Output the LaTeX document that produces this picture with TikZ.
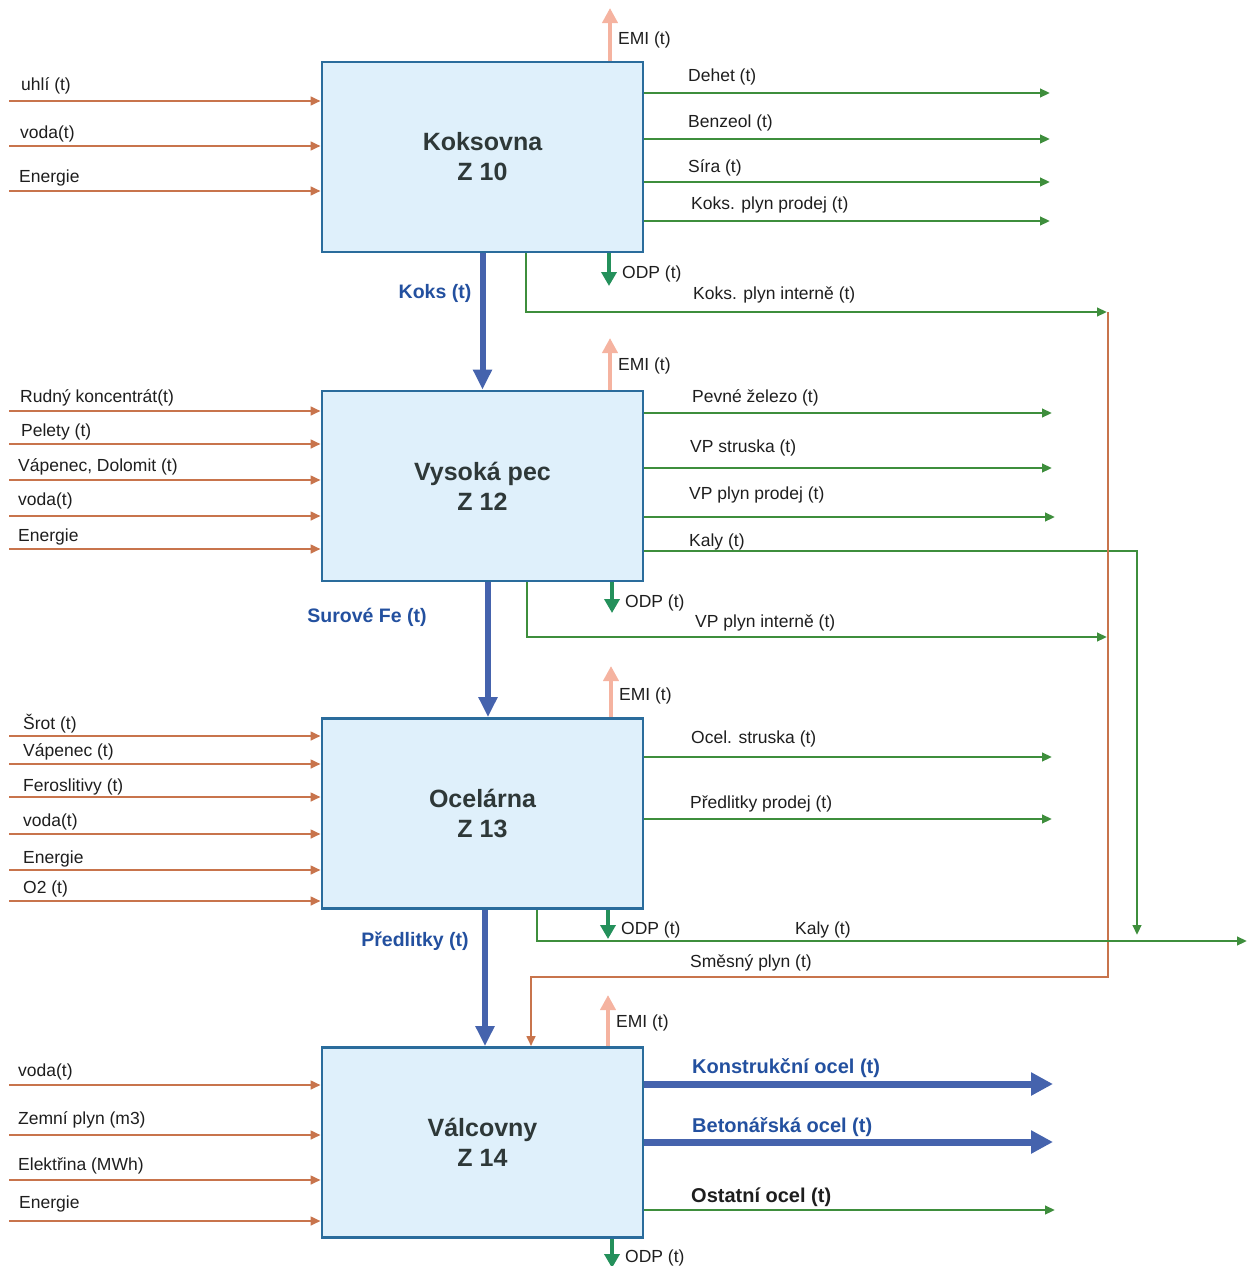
\documentclass[tikz,border=0pt]{standalone}
\usepackage{fontspec}
\setmainfont{Liberation Sans}
\usetikzlibrary{arrows.meta,calc}
\definecolor{inc}{HTML}{C8744C}
\definecolor{outc}{HTML}{3E8E3C}
\definecolor{boxfill}{HTML}{DFF0FB}
\definecolor{boxdraw}{HTML}{2A6C9C}
\definecolor{flowblue}{HTML}{4563AD}
\definecolor{lblblue}{HTML}{23509F}
\definecolor{emic}{HTML}{F5B3A0}
\definecolor{odpc}{HTML}{24905B}
\definecolor{txt}{HTML}{1E1E1E}
\definecolor{titlec}{HTML}{2E3838}
\begin{document}
\begin{tikzpicture}[x=1pt,y=-1pt,
  box/.style={draw=boxdraw, line width=2.7pt, fill=boxfill, minimum width=321pt, minimum height=190pt,
    align=center, font=\fontsize{25}{30}\selectfont\bfseries, text=titlec},
  lbl/.style={anchor=west, inner sep=0pt, yshift=-2pt, font=\fontsize{17.5}{20}\selectfont, text=txt},
  blbl/.style={inner sep=0pt, yshift=-1pt, font=\fontsize{19.5}{22}\selectfont\bfseries, text=lblblue},
  inarr/.style={draw=inc, line width=2.6pt, -{Triangle[length=10pt,width=8.5pt]}},
  outarr/.style={draw=outc, line width=2.6pt, -{Triangle[length=10pt,width=8.5pt]}},
  mixarr/.style={draw=inc, line width=2.6pt, -{Triangle[length=10pt,width=8.5pt]}},
  flowarr/.style={draw=flowblue, line width=6pt, -{Triangle[length=20pt,width=18pt]}},
  prodarr/.style={draw=flowblue, line width=7pt, -{Triangle[length=22pt,width=22pt]}},
  emiarr/.style={draw=emic, line width=4.5pt, -{Triangle[length=15pt,width=15pt]}},
  odparr/.style={draw=odpc, line width=4pt, -{Triangle[length=14pt,width=15pt]}}
]
\useasboundingbox (0,0) rectangle (1249,1266);

% boxes
\node[box] (k) at (482.5,157) {Koksovna\\Z 10};
\node[box] (v) at (482.5,486) {Vysoká pec\\Z 12};
\node[box] (o) at (482.5,813.5) {Ocelárna\\Z 13};
\node[box] (w) at (482.5,1142.5) {Válcovny\\Z 14};

% left inputs
\foreach \b/\lx/\ly/\yy/\t [count=\i] in {
  k/21/84/101/{uhlí (t)}, k/20/132/146/{voda(t)}, k/19/176/191/{Energie},
  v/20/396/411/{Rudný koncentrát(t)}, v/21/430/444/{Pelety (t)}, v/18/465/480/{Vápenec, Dolomit (t)},
  v/18/499/516/{voda(t)}, v/18/535/549/{Energie},
  o/23/722/736/{Šrot (t)}, o/23/750/764/{Vápenec (t)}, o/23/785/797/{Feroslitivy (t)},
  o/23/820/834/{voda(t)}, o/23/857/870/{Energie}, o/23/887/901/{O2 (t)},
  w/18/1070/1085/{voda(t)}, w/18/1118/1135/{Zemní plyn (m3)}, w/18/1164/1180/{Elektřina (MWh)},
  w/19/1202/1221/{Energie}} {
  \node[lbl] (inl\i) at (\lx,\ly) {\t};
  \coordinate (ins\i) at (9,\yy);
  \draw[inarr] (ins\i) -- (ins\i -| \b.west);
}

% right outputs
\foreach \b/\lx/\ly/\yy/\ex/\t [count=\i] in {
  k/688/75/93/1050/{Dehet (t)}, k/688/121/139/1050/{Benzeol (t)}, k/688/166/182/1050/{Síra (t)},
  k/691/203/221/1050/{Koks. plyn prodej (t)},
  v/692/396/413/1052/{Pevné železo (t)}, v/690/446/468/1052/{VP struska (t)},
  v/689/493/517/1055/{VP plyn prodej (t)},
  o/691/737/757/1052/{Ocel. struska (t)}, o/690/802/819/1052/{Předlitky prodej (t)}} {
  \node[lbl] (outl\i) at (\lx,\ly) {\t};
  \coordinate (oute\i) at (\ex,\yy);
  \draw[outarr] (oute\i -| \b.east) -- (oute\i);
}

% internal gas and sludge routes
\coordinate (kpi) at (1107,312);
\coordinate (mixtop) at (1108,312);
\coordinate (vpi) at (1107,637);
\coordinate (vkaly) at (1137,935);
\coordinate (okaly) at (1247,941);
\coordinate (mixin) at (531,977);

\draw[outarr] (k.south -| 526,0) |- (kpi);
\node[lbl] (kpil) at (693,293) {Koks. plyn interně (t)};

\draw[outarr] (v.south -| 527,0) |- (vpi);
\node[lbl] (vpil) at (695,621) {VP plyn interně (t)};

\draw[outarr] (v.east |- 0,551) -| (vkaly);
\node[lbl] (vkalyl) at (689,540) {Kaly (t)};

\draw[mixarr] (mixtop) |- (mixin) -- (w.north -| mixin);
\node[lbl] (mixl) at (690,961) {Směsný plyn (t)};

\draw[outarr] (o.south -| 537,0) |- (okaly);
\node[lbl] (okalyl) at (795,928) {Kaly (t)};

% main blue flows
\draw[flowarr] (k.south) -- (v.north);
\node[blbl] (kflow) at (435,292) {Koks (t)};
\draw[flowarr] ([xshift=5.5pt]v.south) -- ([xshift=5.5pt]o.north);
\node[blbl] (vflow) at (367,616) {Surové Fe (t)};
\draw[flowarr] ([xshift=2.5pt]o.south) -- ([xshift=2.5pt]w.north);
\node[blbl] (oflow) at (415,940) {Předlitky (t)};

% emissions
\foreach \b/\x/\top/\ly [count=\i] in {k/610/8/38, v/610/338/364, o/611/666/694, w/608/995/1021} {
  \coordinate (emi\i) at (\x,\top);
  \draw[emiarr] (\b.north -| emi\i) -- (emi\i);
  \node[lbl] (emil\i) at (\x+8,\ly) {EMI (t)};
}

% ODP
\foreach \b/\x/\bot/\ly [count=\i] in {k/609/286/272, v/612/613/601, o/608/939/928, w/612/1268/1256} {
  \coordinate (odp\i) at (\x,\bot);
  \draw[odparr] (\b.south -| odp\i) -- (odp\i);
  \node[lbl] (odpl\i) at (\x+13,\ly) {ODP (t)};
}

% rolling mill products
\coordinate (pr1) at (1053,1084);
\coordinate (pr2) at (1053,1142);
\coordinate (pr3) at (1055,1210);
\draw[prodarr] (pr1 -| w.east) -- (pr1);
\draw[prodarr] (pr2 -| w.east) -- (pr2);
\draw[outarr] (pr3 -| w.east) -- (pr3);
\node[blbl, anchor=west, font=\fontsize{20}{24}\selectfont\bfseries] (prl1) at (692,1067) {Konstrukční ocel (t)};
\node[blbl, anchor=west, font=\fontsize{20}{24}\selectfont\bfseries] (prl2) at (692,1126) {Betonářská ocel (t)};
\node[blbl, anchor=west, font=\fontsize{20}{24}\selectfont\bfseries, text=txt] (prl3) at (691,1196) {Ostatní ocel (t)};
\end{tikzpicture}
\end{document}
